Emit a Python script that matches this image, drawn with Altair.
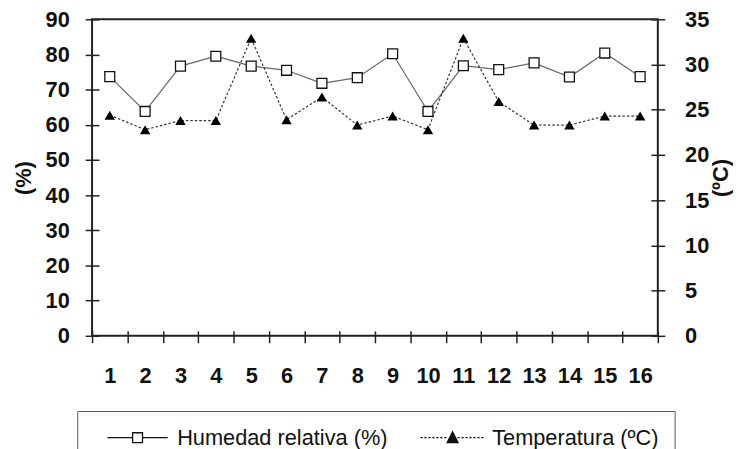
import altair as alt
import pandas as pd

# ---- data ----
days = list(range(1, 17))
humidity = [73.7, 63.8, 76.7, 79.5, 76.7, 75.5, 71.8, 73.4, 80.2, 63.8, 76.8, 75.7, 77.6, 73.6, 80.4, 73.7]
temperature = [24.4, 22.8, 23.8, 23.8, 32.9, 23.9, 26.4, 23.3, 24.3, 22.8, 32.9, 25.9, 23.3, 23.3, 24.3, 24.3]
series_names = ["Humedad relativa (%)", "Temperatura (ºC)"]
hum_ticks = list(range(0, 91, 10))
temp_ticks = list(range(0, 36, 5))

df = pd.DataFrame({"day": days, "hum": humidity, "temp": temperature})
legend_df = pd.DataFrame({"series": series_names})

FONT = "Liberation Sans"
INK = "#111111"


def dash_path(x0, x1, dash, gap):
    segs = []
    x = x0
    while x < x1 - 1e-9:
        e = min(x + dash, x1)
        segs.append(f"M{x:.2f},0H{e:.2f}")
        x = e + gap
    return "".join(segs)


def solid_triangle():
    # nested outlines so that a stroke-only symbol looks filled
    ax, ay = 0.0, -1.2
    bx, by = 1.1, 1.0
    cx_, cy_ = -1.1, 1.0
    gx, gy = 0.0, (ay + by + cy_) / 3
    parts = []
    for f in (1.0, 0.8, 0.6, 0.4, 0.2):
        p = [(gx + (x - gx) * f, gy + (y - gy) * f) for x, y in ((ax, ay), (bx, by), (cx_, cy_))]
        parts.append("M{:.3f},{:.3f}L{:.3f},{:.3f}L{:.3f},{:.3f}Z".format(*p[0], *p[1], *p[2]))
    parts.append(f"M0,{ay:.2f}V{by:.2f}")
    return "".join(parts)


hum_symbol = "M-6.1,0H-1M1,0H6.1M-1,-1H1V1H-1Z"
temp_symbol = (dash_path(-6.5, -1.0, 0.45, 0.35) + dash_path(1.0, 6.5, 0.45, 0.35)
               + solid_triangle())

x_enc = alt.X(
    "day:O",
    scale=alt.Scale(type="band", paddingInner=0, paddingOuter=0),
    axis=alt.Axis(title=None, labelAngle=0, tickBand="extent", tickSize=12, offset=-5,
                  labelPadding=23, domain=False, grid=False),
)

y_h = alt.Y(
    "hum:Q",
    scale=alt.Scale(domain=[0, 90], nice=False, zero=True),
    axis=alt.Axis(values=hum_ticks, orient="left", offset=-7, tickSize=14, labelPadding=16,
                  domain=False, grid=False, title="(%)", titlePadding=10),
)

y_t = alt.Y(
    "temp:Q",
    scale=alt.Scale(domain=[0, 35], nice=False, zero=True),
    axis=alt.Axis(values=temp_ticks, orient="right", offset=-7, tickSize=14, labelPadding=20,
                  domain=False, grid=False, title="(ºC)", titleAngle=-90,
                  titleBaseline="top", titlePadding=2),
)

hum_line = alt.Chart(df).mark_line(color="#666666", strokeWidth=1.2).encode(x=x_enc, y=y_h)
hum_pts = alt.Chart(df).mark_point(shape="square", size=100, filled=True, fill="white",
                                   stroke=INK, strokeWidth=1.3, opacity=1).encode(x=x_enc, y=y_h)

temp_line = alt.Chart(df).mark_line(color="#333333", strokeWidth=1.2,
                                    strokeDash=[2.5, 2]).encode(x=x_enc, y=y_t)
temp_pts = alt.Chart(df).mark_point(shape="triangle-up", size=110, filled=True,
                                    color="#000000", opacity=1).encode(x=x_enc, y=y_t)

leg = alt.Legend(title=None, orient="none", legendX=-15, legendY=396, direction="horizontal",
                 columns=2, symbolSize=100, symbolOffset=34, labelOffset=29,
                 columnPadding=20.5, padding=16, strokeColor="#555555",
                 labelLimit=400, labelFontSize=22, labelColor=INK, labelFont=FONT,
                 symbolStrokeWidth=1.3, symbolOpacity=1)

legend_layer = alt.Chart(legend_df).mark_point(filled=False, size=0, opacity=1, color=INK,
                                               strokeWidth=1.3).encode(
    shape=alt.Shape("series:N", scale=alt.Scale(domain=series_names, range=[hum_symbol, temp_symbol]),
                    legend=leg),
)

hum = alt.layer(hum_line, hum_pts)
temp = alt.layer(temp_line, temp_pts)

chart = (
    alt.layer(hum, temp, legend_layer)
    .resolve_scale(y="independent")
    .properties(width=572, height=320,
                padding={"left": 85, "top": 9, "right": 76, "bottom": 112},
                autosize=alt.AutoSizeParams(type="none"), background="white")
    .configure_view(stroke="#222222", strokeWidth=2)
    .configure_axis(labelFont=FONT, titleFont=FONT, labelFontSize=22, labelFontWeight="bold",
                    titleFontSize=22, titleFontWeight="bold", labelColor=INK, titleColor=INK,
                    tickColor="#222222", tickWidth=1.5)
)

chart.save("out.html", embed_options={"renderer": "svg", "actions": False})
